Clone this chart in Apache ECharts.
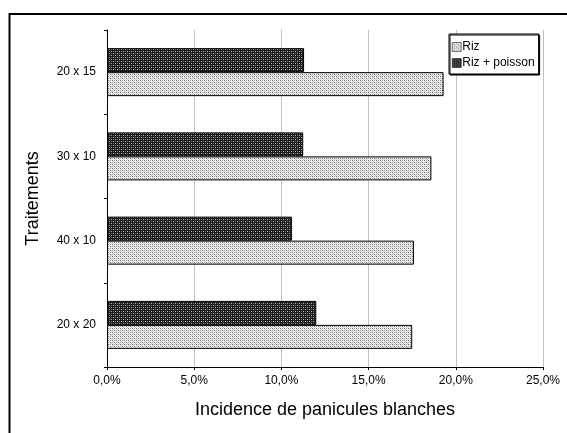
<!DOCTYPE html>
<html>
<head>
<meta charset="utf-8">
<script src="https://cdn.jsdelivr.net/npm/echarts@6/dist/echarts.min.js"></script>
<style>html,body{margin:0;padding:0;background:#fff;}#c{width:567px;height:433px;}</style>
</head>
<body>
<div id="c"></div>
<script>
const categories = ['20 x 15', '30 x 10', '40 x 10', '20 x 20'];
const seriesNames = ['Riz', 'Riz + poisson'];
const rizValues = [19.3, 18.6, 17.6, 17.5];
const rizPoissonValues = [11.3, 11.25, 10.6, 12.0];
const xTicks = [0, 5, 10, 15, 20, 25];

function makePattern(bg, dots) {
  const c = document.createElement('canvas');
  c.width = 4; c.height = 4;
  const ctx = c.getContext('2d');
  ctx.fillStyle = bg; ctx.fillRect(0, 0, 4, 4);
  dots.forEach(d => { ctx.fillStyle = d[2]; ctx.fillRect(d[0], d[1], 1, 1); });
  return { image: c, repeat: 'repeat' };
}
const rizPattern = makePattern('#eeeeee', [[0,0,'#6a6a6a'],[2,2,'#6a6a6a'],[0,2,'#a8a8a8'],[2,0,'#a8a8a8'],[1,1,'#d0d0d0'],[3,3,'#d0d0d0']]);
const poissonPattern = makePattern('#1c1c1c', [[1,1,'#b8b8b8'],[3,3,'#b8b8b8'],[1,3,'#707070'],[3,1,'#707070']]);

const font = 'Liberation Sans';
const chart = echarts.init(document.getElementById('c'), null, { renderer: 'canvas' });
chart.setOption({
  animation: false,
  backgroundColor: '#fff',
  textStyle: { fontFamily: font },
  graphic: [{
    type: 'rect', silent: true, z: -1,
    shape: { x: 9.5, y: 14, width: 700, height: 600 },
    style: { fill: 'none', stroke: '#000', lineWidth: 2 }
  }],
  grid: { left: 107, right: 24, top: 30, bottom: 66, containLabel: false },
  legend: {
    data: seriesNames,
    orient: 'vertical',
    left: 449, top: 34,
    itemWidth: 9, itemHeight: 9, itemGap: 4,
    padding: [7, 4, 5, 3],
    borderColor: '#000', borderWidth: 1,
    backgroundColor: '#fff',
    shadowColor: '#000', shadowOffsetX: 1, shadowOffsetY: 1, shadowBlur: 0,
    textStyle: { fontFamily: font, fontSize: 12, color: '#000', padding: [0, 0, 0, -4] },
    itemStyle: { borderColor: '#000', borderWidth: 0.5 },
    icon: 'rect'
  },
  xAxis: {
    type: 'value', min: 0, max: 25, interval: 5,
    name: 'Incidence de panicules blanches',
    nameLocation: 'middle', nameGap: 34,
    nameTextStyle: { fontFamily: font, fontSize: 18, color: '#000' },
    axisLine: { show: true, lineStyle: { color: '#000', width: 1 } },
    axisTick: { show: true, length: 3, lineStyle: { color: '#000' } },
    axisLabel: {
      fontFamily: font, fontSize: 12, color: '#000', margin: 8,
      formatter: v => v.toFixed(1).replace('.', ',') + '%'
    },
    splitLine: { show: true, lineStyle: { color: '#c0c0c0', width: 1 } }
  },
  yAxis: {
    type: 'category', data: categories, inverse: true,
    name: 'Traitements',
    nameLocation: 'middle', nameGap: 65,
    nameTextStyle: { fontFamily: font, fontSize: 18, color: '#000' },
    axisLine: { show: true, lineStyle: { color: '#000', width: 1 } },
    axisTick: { show: true, length: 3, lineStyle: { color: '#000' } },
    axisLabel: { fontFamily: font, fontSize: 12, color: '#000', margin: 11 },
    splitLine: { show: false }
  },
  series: [
    {
      name: 'Riz + poisson', type: 'bar', data: rizPoissonValues,
      barWidth: 24, barGap: '0%',
      itemStyle: { color: poissonPattern, borderColor: '#000', borderWidth: 1 }
    },
    {
      name: 'Riz', type: 'bar', data: rizValues,
      barWidth: 24, barGap: '0%',
      itemStyle: { color: rizPattern, borderColor: '#000', borderWidth: 1 }
    }
  ]
});
</script>
</body>
</html>
